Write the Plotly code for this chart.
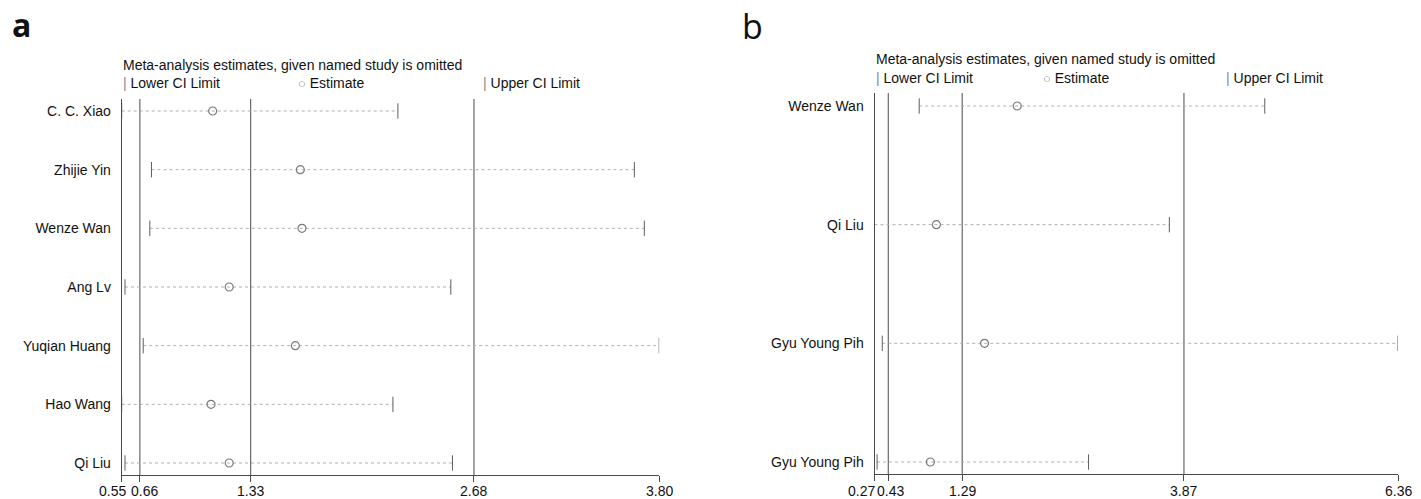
import plotly.graph_objects as go

W, H = 1421, 499

# ---------------- data ----------------
studies_a = ["C. C. Xiao", "Zhijie Yin", "Wenze Wan", "Ang Lv", "Yuqian Huang", "Hao Wang", "Qi Liu"]
est_a = [1.10, 1.63, 1.64, 1.20, 1.60, 1.09, 1.20]
lower_a = [0.55, 0.73, 0.72, 0.57, 0.68, 0.55, 0.57]
upper_a = [2.22, 3.65, 3.71, 2.54, 3.80, 2.19, 2.55]
ref_a = [0.66, 1.33, 2.68]
ticks_a = [0.55, 0.66, 1.33, 2.68, 3.80]
tick_labels_a = ["0.55", "0.66", "1.33", "2.68", "3.80"]

studies_b = ["Wenze Wan", "Qi Liu", "Gyu Young Pih", "Gyu Young Pih"]
est_b = [1.93, 0.99, 1.55, 0.92]
lower_b = [0.79, 0.27, 0.36, 0.30]
upper_b = [4.81, 3.70, 6.36, 2.76]
ref_b = [0.43, 1.29, 3.87]
ticks_b = [0.27, 0.43, 1.29, 3.87, 6.36]
tick_labels_b = ["0.27", "0.43", "1.29", "3.87", "6.36"]

title_text = "Meta-analysis estimates, given named study is omitted"

FONT = "Liberation Sans, Arial, sans-serif"
TXT = "#111111"
AXC = "#4a4a4a"
DOT = "#b0b0b0"
MK = "#7a7a7a"


def px(x):
    return x / W


def py(y):
    return (H - y) / H


fig = go.Figure()


def add_panel(studies, est, lo, hi, refs, ticks, tlabels, xa, ya, shifts):
    n = len(studies)
    rows = list(range(1, n + 1))
    xref = "x" if xa == "xaxis" else "x2"
    yref = "y" if ya == "yaxis" else "y2"
    for r, l, u in zip(rows, lo, hi):
        fig.add_trace(go.Scatter(x=[l, u], y=[r, r], mode="lines",
                                 line=dict(color=DOT, width=1, dash="dot"),
                                 xaxis=xref, yaxis=yref, hoverinfo="skip", showlegend=False))
    fig.add_trace(go.Scatter(x=lo + hi, y=rows + rows, mode="markers",
                             marker=dict(symbol="line-ns", size=11,
                                         line=dict(color="#5e5e5e", width=1)),
                             xaxis=xref, yaxis=yref, showlegend=False))
    fig.add_trace(go.Scatter(x=est, y=rows, mode="markers",
                             marker=dict(symbol="circle-open", size=8,
                                         color=MK, line=dict(color=MK, width=1.2)),
                             xaxis=xref, yaxis=yref, showlegend=False))
    for v in refs:
        fig.add_shape(type="line", x0=v, x1=v, y0=0, y1=1, xref=xref,
                      yref=yref + " domain", line=dict(color=AXC, width=1), layer="below")
    for v, t, s in zip(ticks, tlabels, shifts):
        fig.add_annotation(x=v, y=py(490.5), xref=xref, yref="paper", text=t,
                           showarrow=False, xanchor="center", yanchor="middle",
                           xshift=s, font=dict(family=FONT, size=14, color=TXT))


add_panel(studies_a, est_a, lower_a, upper_a, ref_a, ticks_a, tick_labels_a,
          "xaxis", "yaxis", [-9, 5, 0, 0, 0])
add_panel(studies_b, est_b, lower_b, upper_b, ref_b, ticks_b, tick_labels_b,
          "xaxis2", "yaxis2", [-13, 2, 0, 0, 0])

common_x = dict(showgrid=False, zeroline=False, showline=True, linecolor=AXC, linewidth=1,
                ticks="outside", ticklen=6, tickcolor=AXC, showticklabels=False)
common_y = dict(showgrid=False, zeroline=False, showline=True, linecolor=AXC, linewidth=1,
                ticks="", tickfont=dict(family=FONT, size=14, color=TXT),
                ticklabelstandoff=7)

na, nb = len(studies_a), len(studies_b)
sp_a = (463 - 111) / (na - 1)
sp_b = (462 - 106) / (nb - 1)

fig.update_layout(
    width=W, height=H, margin=dict(l=0, r=0, t=0, b=0),
    paper_bgcolor="white", plot_bgcolor="white",
    xaxis=dict(domain=[px(121.7), px(659.2)], range=[ticks_a[0], ticks_a[-1]],
               tickvals=ticks_a, anchor="y", **common_x),
    yaxis=dict(domain=[py(475), py(99)],
               range=[na + (475 - 463) / sp_a, 1 - (111 - 99) / sp_a],
               tickvals=list(range(1, na + 1)), ticktext=studies_a, anchor="x", **common_y),
    xaxis2=dict(domain=[px(874.5), px(1398)], range=[ticks_b[0], ticks_b[-1]],
                tickvals=ticks_b, anchor="y2", **common_x),
    yaxis2=dict(domain=[py(474), py(93)],
                range=[nb + (474 - 462) / sp_b, 1 - (106 - 93) / sp_b],
                tickvals=list(range(1, nb + 1)), ticktext=studies_b, anchor="x2", **common_y),
)

# panel letters
fig.add_annotation(x=px(10), y=py(24), xref="paper", yref="paper", text="<b>a</b>",
                   showarrow=False, xanchor="left", yanchor="middle",
                   font=dict(family="Open Sans, DejaVu Sans, sans-serif", size=32, color="#111111"))
fig.add_annotation(x=px(740), y=py(26), xref="paper", yref="paper", text="b",
                   showarrow=False, xanchor="left", yanchor="middle",
                   font=dict(family="Open Sans, DejaVu Sans, sans-serif", size=34, color="#111111"))


def header(x0, ytitle, yleg, xest, xup):
    f = dict(family=FONT, size=14, color=TXT)
    fig.add_annotation(x=px(x0), y=py(ytitle), xref="paper", yref="paper", text=title_text,
                       showarrow=False, xanchor="left", yanchor="middle", font=f)
    fig.add_annotation(x=px(x0), y=py(yleg), xref="paper", yref="paper",
                       text='<span style="color:#8a8a8a">|</span> Lower CI Limit',
                       showarrow=False, xanchor="left", yanchor="middle", font=f)
    fig.add_annotation(x=px(xest), y=py(yleg), xref="paper", yref="paper",
                       text='<span style="color:#8a8a8a;font-size:13px">○</span> Estimate',
                       showarrow=False, xanchor="left", yanchor="middle", font=f)
    fig.add_annotation(x=px(xup), y=py(yleg), xref="paper", yref="paper",
                       text='<span style="color:#8a8a8a">|</span> Upper CI Limit',
                       showarrow=False, xanchor="left", yanchor="middle", font=f)


header(121, 65, 83, 296, 481)
header(874, 59, 78, 1041, 1224)

fig.write_html("out.html")
